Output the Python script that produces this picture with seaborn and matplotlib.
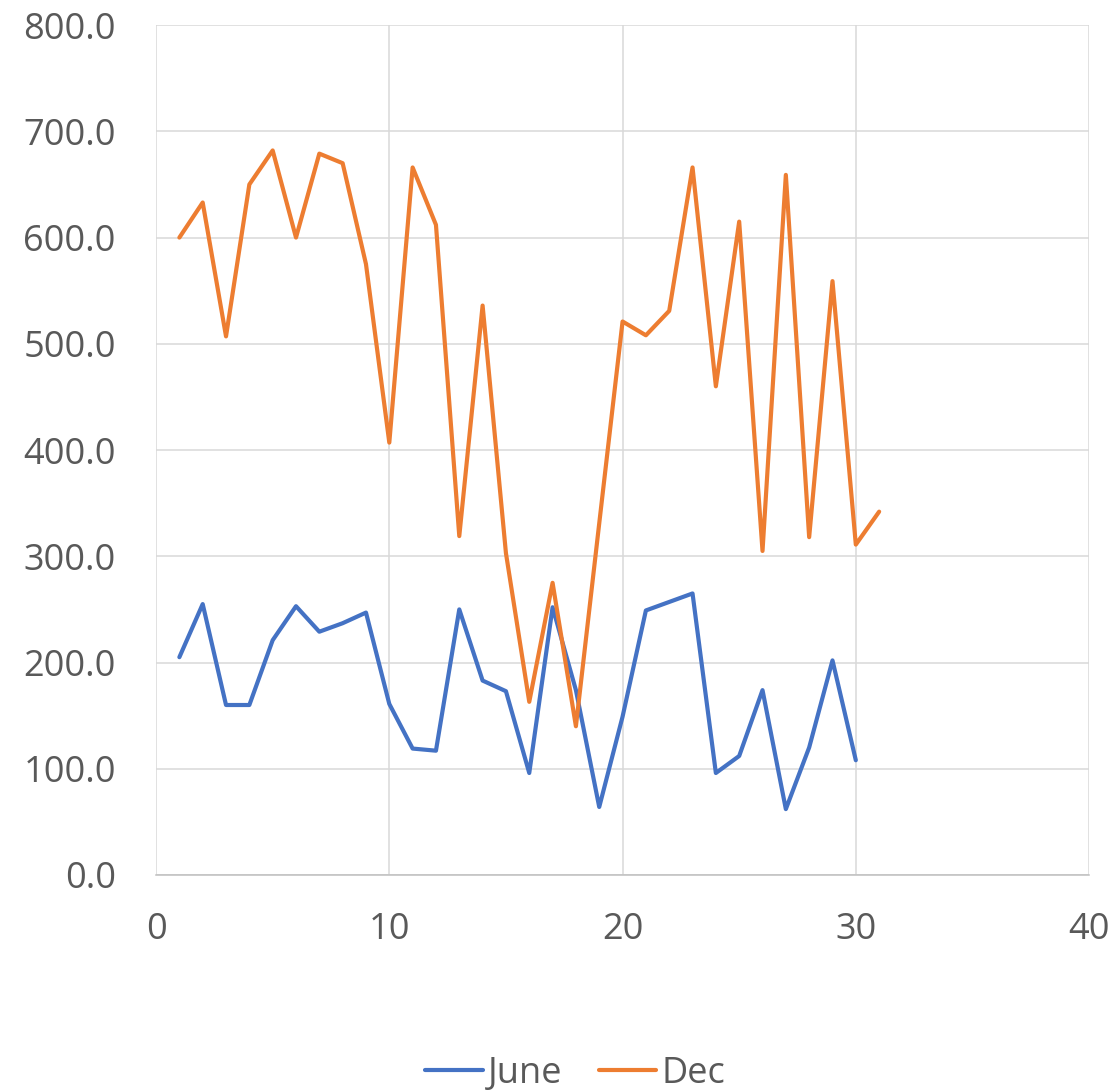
import numpy as np
import pandas as pd
import matplotlib
matplotlib.use("Agg")
import matplotlib.pyplot as plt
import seaborn as sns
from matplotlib.ticker import FormatStrFormatter
from matplotlib.lines import Line2D

# Daily values
june_day = list(range(1, 31))
june_vals = [205, 255, 160, 160, 221, 253, 229, 237, 247, 161,
             119, 117, 250, 183, 173, 96, 252, 174, 64, 149,
             249, 257, 265, 96, 112, 174, 62, 120, 202, 108]
dec_day = list(range(1, 32))
dec_vals = [600, 633, 507, 650, 682, 600, 679, 670, 575, 407,
            666, 612, 319, 536, 303, 163, 275, 140, 331, 521,
            508, 531, 666, 460, 615, 305, 659, 318, 559, 311, 342]

df = pd.concat([
    pd.DataFrame({"day": june_day, "value": june_vals, "series": "June"}),
    pd.DataFrame({"day": dec_day, "value": dec_vals, "series": "Dec"}),
], ignore_index=True)

sns.set_style("white")
plt.rcParams["font.family"] = ["Open Sans", "DejaVu Sans"]

fig = plt.figure(figsize=(11.17, 10.91), dpi=100)
ax = fig.add_axes([0.1397, 0.198, 0.8353, 0.779])

palette = {"June": "#4472C4", "Dec": "#ED7D31"}
lw = 3.0
sns.lineplot(data=df, x="day", y="value", hue="series", palette=palette,
             linewidth=lw, ax=ax, legend=False, sort=False)

ax.set_xlim(0, 40)
ax.set_ylim(0, 800)
ax.set_xticks(range(0, 41, 10))
ax.set_yticks(range(0, 801, 100))
ax.yaxis.set_major_formatter(FormatStrFormatter("%.1f"))
ax.grid(True, color="#d9d9d9", linewidth=1.1)
ax.set_axisbelow(True)
for side in ["top", "right", "left"]:
    ax.spines[side].set_visible(False)
ax.spines["bottom"].set_color("#bfbfbf")
ax.spines["bottom"].set_linewidth(1.1)
ax.tick_params(axis="both", length=0, labelsize=26, colors="#595959")
ax.tick_params(axis="x", pad=27)
ax.tick_params(axis="y", pad=29)
ax.set_xlabel("")
ax.set_ylabel("")

handles = [Line2D([0], [0], color=palette[s], linewidth=lw) for s in ["June", "Dec"]]
fig.legend(handles, ["June", "Dec"], loc="center", bbox_to_anchor=(0.515, 0.016),
           ncol=2, frameon=False, fontsize=26, labelcolor="#595959",
           handlelength=1.6, handletextpad=0.15, columnspacing=1.0)

fig.savefig("out.png", dpi=100)
